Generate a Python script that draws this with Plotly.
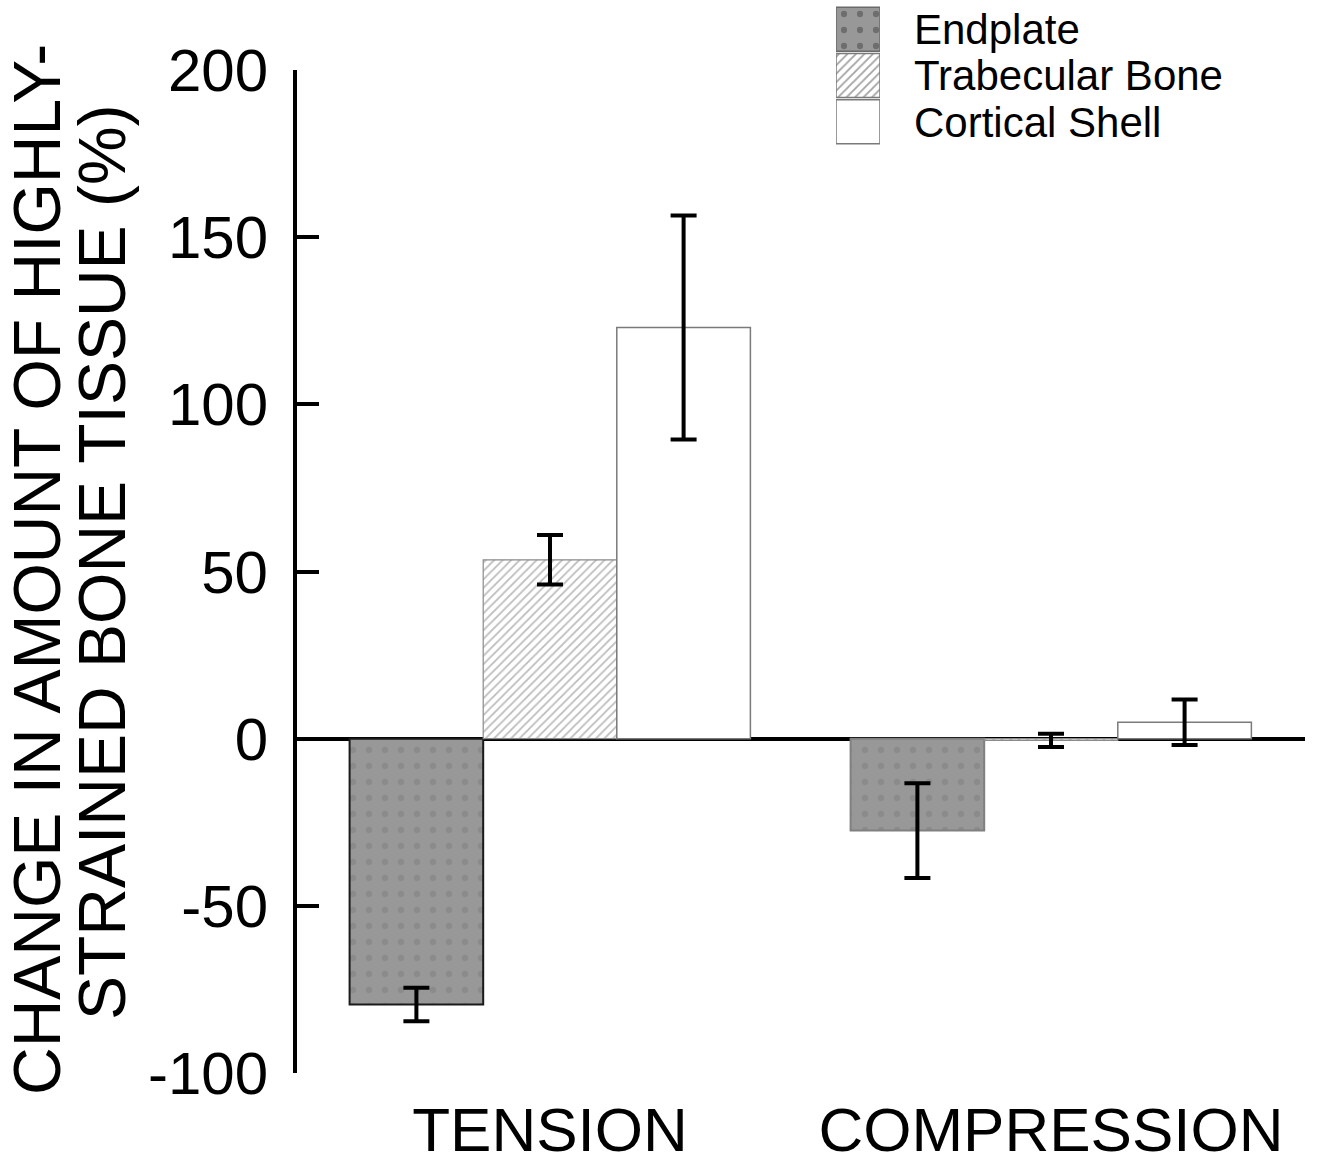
import plotly.graph_objects as go

# ---- data ----
groups = ["TENSION", "COMPRESSION"]
series_names = ["Endplate", "Trabecular Bone", "Cortical Shell"]
endplate = [-79.5, -27.5]
endplate_err = [5.0, 14.2]
trabecular = [53.5, -0.5]
trabecular_err = [7.4, 2.0]
cortical = [123.0, 4.9]
cortical_err = [33.5, 6.8]
y_ticks = [-100, -50, 0, 50, 100, 150, 200]
y_title_lines = ["CHANGE IN AMOUNT OF HIGHLY-", "STRAINED BONE TISSUE (%)"]

FONT = "Liberation Sans, Arial, Helvetica, sans-serif"

styles = [
    dict(shape=".", bg="#989898", fg="#7e7e7e", size=16, solidity=0.12, line=["#1a1a1a", "#808080"], lw=2),
    dict(shape="/", bg="#ffffff", fg="#7a7a7a", size=6, solidity=0.3, line=["#8a8a8a", "#8a8a8a"], lw=1.2),
    dict(shape="", bg="#ffffff", fg="#ffffff", size=8, solidity=0.3, line=["#7a7a7a", "#7a7a7a"], lw=1.5),
]
values = [endplate, trabecular, cortical]
errors = [endplate_err, trabecular_err, cortical_err]

fig = go.Figure()
for name, vals, errs, st in zip(series_names, values, errors, styles):
    fig.add_trace(go.Bar(
        x=groups, y=vals, name=name, showlegend=False,
        marker=dict(
            color=st["bg"],
            pattern=dict(shape=st["shape"], bgcolor=st["bg"], fgcolor=st["fg"],
                         size=st["size"], solidity=st["solidity"], fillmode="overlay"),
            line=dict(color=st["line"], width=st["lw"]),
        ),
        error_y=dict(type="data", array=errs, visible=True, color="black",
                     thickness=4, width=13),
        xaxis="x", yaxis="y",
    ))

# manual legend drawn as a small bar chart
fig.add_trace(go.Bar(
    y=series_names, x=[1, 1, 1], orientation="h", showlegend=False,
    width=0.95,
    marker=dict(
        color=[s["bg"] for s in styles],
        pattern=dict(shape=[s["shape"] for s in styles],
                     bgcolor=[s["bg"] for s in styles],
                     fgcolor=[s["fg"] for s in styles],
                     size=[s["size"] for s in styles],
                     solidity=[s["solidity"] for s in styles],
                     fillmode="overlay"),
        line=dict(color=["#6a6a6a", "#7a7a7a", "#7a7a7a"], width=1.5),
    ),
    xaxis="x2", yaxis="y2", hoverinfo="skip",
))

W, H = 1320, 1169
ml, mr, mt, mb = 297, 15, 0, 96
plot_h = H - mt - mb
top_px = 70
fig.update_layout(
    width=W, height=H,
    margin=dict(l=ml, r=mr, t=mt, b=mb, autoexpand=False),
    paper_bgcolor="white", plot_bgcolor="white",
    barmode="group", bargap=0.2, bargroupgap=0,
    font=dict(family=FONT, color="black"),
    xaxis=dict(
        range=[-0.505, 1.507], showline=False, ticks="", showgrid=False,
        zeroline=False, tickfont=dict(size=62, family=FONT),
        ticklabelstandoff=15, anchor="y", automargin=False,
    ),
    yaxis=dict(
        domain=[0, (plot_h - top_px) / plot_h],
        range=[-100, 200], tickmode="array", tickvals=y_ticks,
        ticktext=[str(v) for v in y_ticks],
        showline=True, linecolor="black", linewidth=4,
        ticks="inside", ticklen=22, tickwidth=4, tickcolor="black",
        tickfont=dict(size=60, family=FONT), ticklabelstandoff=13,
        showgrid=False, zeroline=True, zerolinecolor="black", zerolinewidth=4,
        anchor="x", automargin=False,
    ),
    xaxis2=dict(
        domain=[(836 - ml) / (W - ml - mr), (880 - ml) / (W - ml - mr)],
        range=[0, 1], visible=False, anchor="y2", fixedrange=True,
        automargin=False,
    ),
    yaxis2=dict(
        domain=[(plot_h - 145) / plot_h, (plot_h - 6) / plot_h],
        autorange="reversed", side="right", anchor="x2",
        tickmode="array", tickvals=series_names, ticktext=series_names,
        showline=False, ticks="", showgrid=False, zeroline=False,
        tickfont=dict(size=42, family=FONT), ticklabelstandoff=33,
        automargin=False,
    ),
)

# y-axis title as two rotated lines
for i, (line, xc, yc) in enumerate(zip(y_title_lines, [37, 102], [570, 562])):
    fig.add_annotation(
        text=line, textangle=-90, showarrow=False,
        xref="paper", yref="paper",
        x=(xc - ml) / (W - ml - mr), y=(plot_h - yc) / plot_h,
        xanchor="center", yanchor="middle",
        font=dict(size=66, family=FONT, color="black"),
    )

fig.write_html("out.html", config={"displayModeBar": False},
               post_script="document.body.style.margin='0';")
